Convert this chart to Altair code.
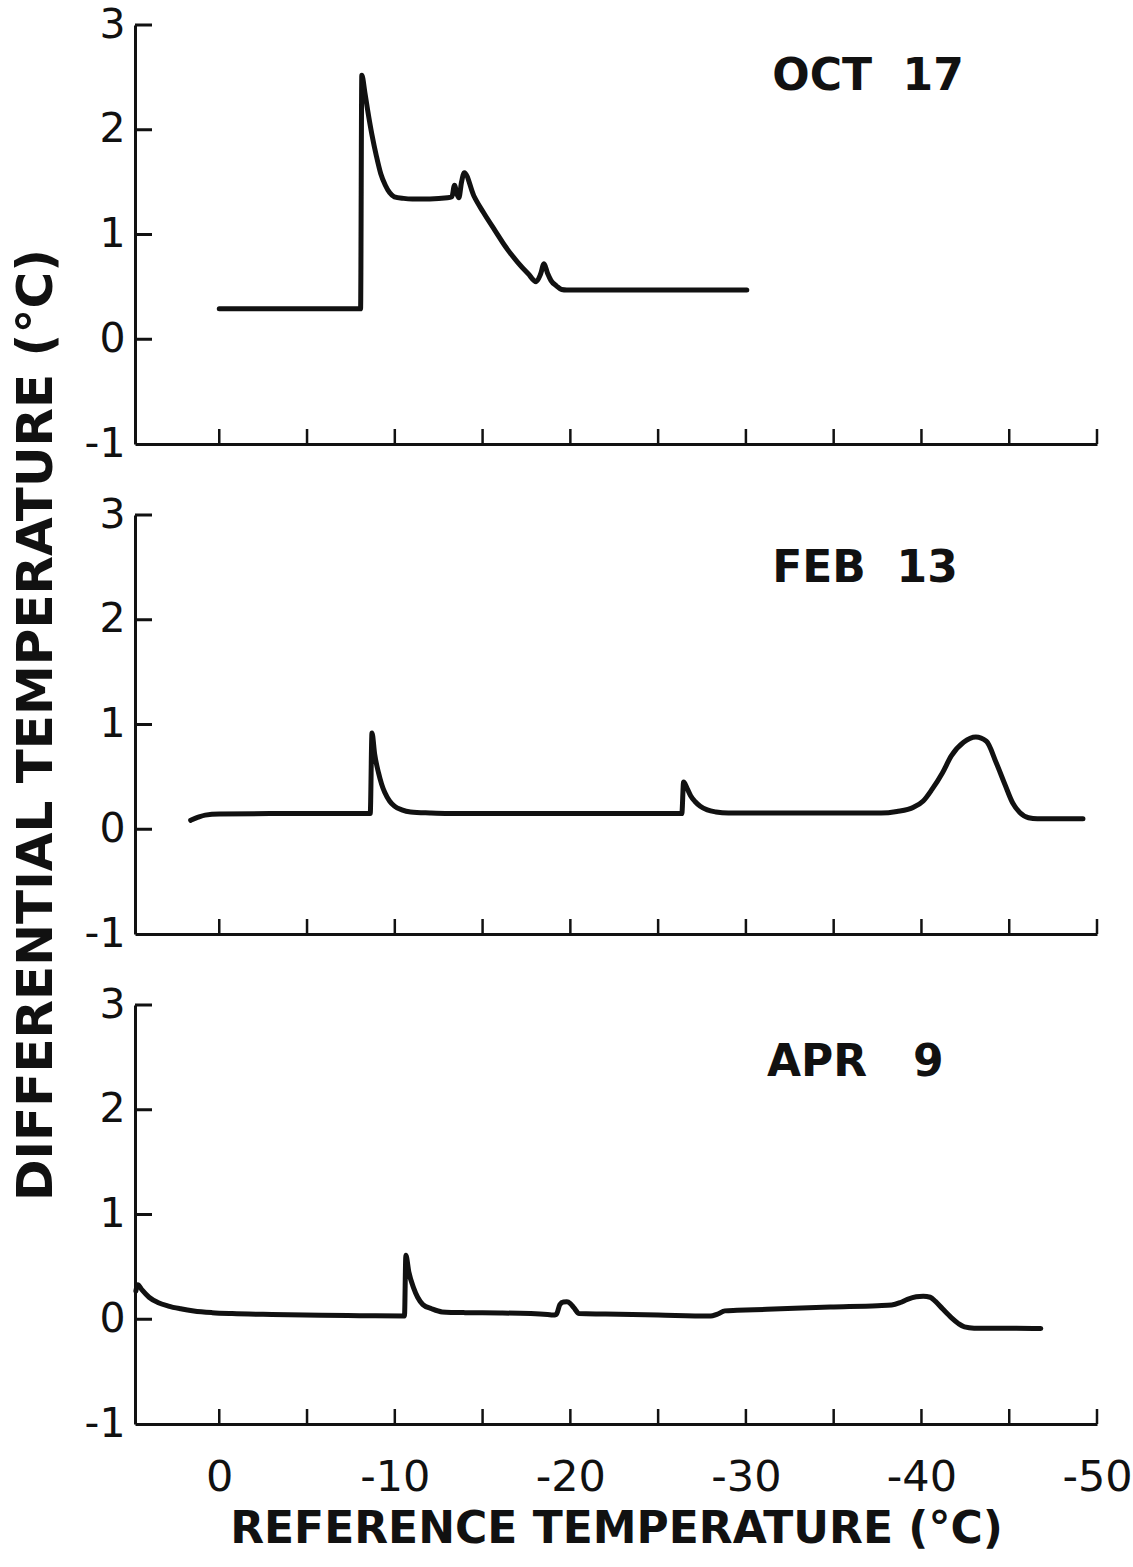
import altair as alt
import pandas as pd

# ---------------- data ----------------
OCT_T = [0.0, -8.05, -8.12, -8.3, -8.45, -8.7, -8.95, -9.2, -9.46, -9.7, -9.97, -10.5,
         -11.0, -12.0, -13.0, -13.25, -13.4, -13.55, -13.65, -13.8, -13.96, -14.5,
         -15.05, -15.7, -16.3, -17.0, -17.6, -18.05, -18.3, -18.5, -18.7, -18.9,
         -19.2, -19.5, -19.8, -25.0, -30.05]
OCT_V = [0.29, 0.29, 2.52, 2.35, 2.19, 1.95, 1.75, 1.58, 1.47, 1.40, 1.36, 1.345,
         1.34, 1.34, 1.35, 1.36, 1.47, 1.38, 1.35, 1.50, 1.59, 1.37,
         1.21, 1.04, 0.885, 0.735, 0.625, 0.55, 0.62, 0.72, 0.63, 0.56,
         0.51, 0.475, 0.47, 0.47, 0.47]

FEB_T = [1.63, 1.2, 0.8, 0.0, -4.0, -8.6, -8.7, -8.85, -9.07, -9.25, -9.43, -9.7,
         -9.98, -10.4, -10.9, -12.0, -13.06, -20.0, -26.35, -26.45, -26.65, -26.85,
         -27.1, -27.4, -27.8, -28.3, -29.0, -37.7, -38.6, -39.55, -40.1, -40.6,
         -41.2, -41.7, -42.4, -43.1, -43.7, -44.27, -44.75, -45.2, -45.6, -46.1,
         -46.6, -49.2]
FEB_V = [0.085, 0.115, 0.135, 0.145, 0.15, 0.15, 0.92, 0.72, 0.54, 0.43, 0.35, 0.27,
         0.22, 0.185, 0.165, 0.155, 0.15, 0.15, 0.15, 0.45, 0.39, 0.32,
         0.265, 0.22, 0.185, 0.165, 0.155, 0.155, 0.17, 0.21, 0.27, 0.38,
         0.54, 0.70, 0.83, 0.88, 0.84, 0.63, 0.43, 0.25, 0.16, 0.11,
         0.10, 0.10]

APR_T = [4.75, 4.64, 4.4, 4.0, 3.5, 2.9, 2.2, 1.45, 0.4, -0.73, -3.0, -5.8, -8.0,
         -10.55, -10.63, -10.8, -11.07, -11.3, -11.6, -12.1, -12.7, -14.0, -16.0,
         -18.7, -19.0, -19.2, -19.4, -19.6, -19.8, -20.0, -20.2, -20.5, -22.0, -25.0,
         -27.9, -28.4, -28.8, -29.5, -31.2, -34.8, -37.5, -38.3, -38.8, -39.2, -39.7,
         -40.1, -40.5, -40.8, -41.2, -41.7, -42.1, -42.45, -43.0, -46.8]
APR_V = [0.27, 0.33, 0.28, 0.21, 0.16, 0.126, 0.10, 0.079, 0.063, 0.054, 0.045, 0.038, 0.034,
         0.032, 0.61, 0.45, 0.30, 0.21, 0.14, 0.10, 0.07, 0.063, 0.06,
         0.045, 0.04, 0.047, 0.14, 0.165, 0.167, 0.15, 0.11, 0.054, 0.05, 0.04,
         0.03, 0.05, 0.08, 0.085, 0.095, 0.117, 0.13, 0.136, 0.16, 0.19, 0.215,
         0.22, 0.21, 0.17, 0.10, 0.016, -0.04, -0.073, -0.085, -0.088]

PANEL_NAMES = ["OCT\u00a0\u00a017", "FEB\u00a0\u00a013", "APR\u00a0\u00a0\u00a09"]
LABEL_T = [-31.5, -31.5, -31.2]
LABEL_V = [2.5, 2.48, 2.45]

X_TICKS = [0, -5, -10, -15, -20, -25, -30, -35, -40, -45, -50]
X_LABELS = [0, -10, -20, -30, -40, -50]
Y_TICKS = [3, 2, 1, 0]
Y_LABELS = [-1, 0, 1, 2, 3]

X_DOMAIN = [-50, 4.8]
Y_DOMAIN = [-1, 3]

# ---------------- layout / style ----------------
W, H = 962, 419
FONT = "DejaVu Sans"
INK = "#111111"


def panel(T, V, idx, bottom=False, ytitle=False):
    line_df = pd.DataFrame({"T": T, "V": V})
    lab_df = pd.DataFrame({"T": [LABEL_T[idx]], "V": [LABEL_V[idx]],
                           "name": [PANEL_NAMES[idx]]})
    xt_df = pd.DataFrame({"T": X_TICKS})
    yt_df = pd.DataFrame({"V": Y_TICKS})

    xscale = alt.Scale(domain=X_DOMAIN, reverse=True, nice=False, zero=False)
    yscale = alt.Scale(domain=Y_DOMAIN, nice=False, zero=False)

    xaxis_kw = dict(values=X_LABELS, ticks=False, grid=False, domainWidth=3,
                    domainColor=INK, labels=bottom, labelFlush=False,
                    labelExpr="toString(datum.value)",
                    labelFont=FONT, labelFontSize=43, labelColor=INK,
                    labelPadding=32)
    if bottom:
        xaxis_kw.update(titleFont=FONT, titleFontSize=44, titleFontWeight="bold",
                        titleColor=INK, titlePadding=8)
    yaxis_kw = dict(values=Y_LABELS, ticks=False, grid=False, domainWidth=3,
                    domainColor=INK, labelExpr="toString(datum.value)",
                    labelFont=FONT, labelFontSize=41, labelColor=INK,
                    labelPadding=10)
    if ytitle:
        yaxis_kw.update(titleFont=FONT, titleFontSize=50, titleFontWeight="bold",
                        titleColor=INK, titlePadding=23)

    xtitle = "REFERENCE TEMPERATURE (°C)" if bottom else None
    ytit = "DIFFERENTIAL TEMPERATURE (°C)" if ytitle else None

    line = alt.Chart(line_df).mark_line(
        color=INK, strokeWidth=5, interpolate="monotone",
        strokeJoin="round", strokeCap="round"
    ).encode(
        x=alt.X("T:Q", scale=xscale, axis=alt.Axis(**xaxis_kw), title=xtitle),
        y=alt.Y("V:Q", scale=yscale, axis=alt.Axis(**yaxis_kw), title=ytit),
    )

    xticks = alt.Chart(xt_df).mark_rule(color=INK, strokeWidth=2.5).encode(
        x=alt.X("T:Q", scale=xscale),
        y=alt.value(H), y2=alt.value(H - 15),
    )
    yticks = alt.Chart(yt_df).mark_rule(color=INK, strokeWidth=3).encode(
        y=alt.Y("V:Q", scale=yscale),
        x=alt.value(0), x2=alt.value(17),
    )
    label = alt.Chart(lab_df).mark_text(
        font=FONT, fontSize=44, fontWeight="bold", align="left",
        baseline="middle", color=INK
    ).encode(
        x=alt.X("T:Q", scale=xscale),
        y=alt.Y("V:Q", scale=yscale),
        text="name:N",
    )
    return alt.layer(line, xticks, yticks, label).properties(width=W, height=H)


p1 = panel(OCT_T, OCT_V, 0)
p2 = panel(FEB_T, FEB_V, 1, ytitle=True)
p3 = panel(APR_T, APR_V, 2, bottom=True)

chart = alt.vconcat(p1, p2, p3, spacing=71, bounds="flush").properties(
    padding={"left": 11, "top": 4, "right": 0, "bottom": 0},
    background="white",
).configure_view(stroke=None)

chart.save("out.html", embed_options={"renderer": "svg", "actions": False})
